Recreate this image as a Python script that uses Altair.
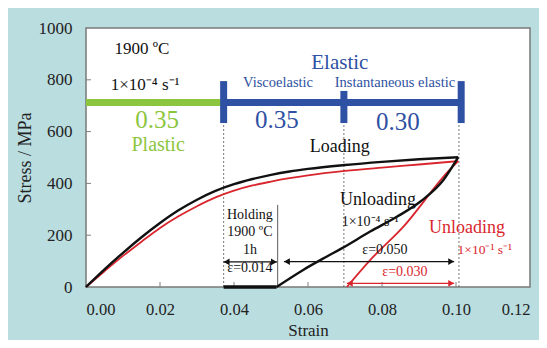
import altair as alt
import pandas as pd

FONT = "Liberation Serif"
BLACK = "#111111"
RED = "#d9262e"
BLUE = "#2e51a3"
GREEN = "#8cc63e"
BG = "#badde0"

# ---- curves (strain, stress MPa) ----
load_strain = [0, 0.005, 0.01, 0.015, 0.02, 0.025, 0.03, 0.035, 0.04, 0.045, 0.05, 0.055, 0.06, 0.07, 0.08, 0.09, 0.1006]
black_load_stress = [0, 68, 132, 192, 247, 296, 337, 371, 397, 417, 433, 446, 456, 471, 483, 493, 501]
red_load_stress = [0, 61, 120, 175, 228, 273, 312, 346, 372, 392, 407, 420, 431, 448, 461, 473, 486]

black_unload_strain = [0.0515, 0.0587, 0.065, 0.0691, 0.0768, 0.084, 0.0903, 0.0966, 0.1006]
black_unload_stress = [0, 66, 117, 149, 214, 271, 329, 413, 501]

red_unload_strain = [0.0705, 0.0768, 0.0858, 0.098, 0.1006]
red_unload_stress = [0, 104, 233, 448, 486]

hold_strain = [0.0372, 0.0515]
hold_stress = [0, 0]

rows = []
for s, v in zip(load_strain, black_load_stress):
    rows.append(("black_load", "k", s, v))
for s, v in zip(black_unload_strain, black_unload_stress):
    rows.append(("black_unload", "k", s, v))
curves_k = pd.DataFrame(rows, columns=["series", "col", "strain", "stress"])
rows = []
for s, v in zip(load_strain, red_load_stress):
    rows.append(("red_load", "r", s, v))
for s, v in zip(red_unload_strain, red_unload_stress):
    rows.append(("red_unload", "r", s, v))
curves_r = pd.DataFrame(rows, columns=["series", "col", "strain", "stress"])
hold = pd.DataFrame({"strain": hold_strain, "stress": hold_stress})

x_ticks = [0.0, 0.02, 0.04, 0.06, 0.08, 0.10, 0.12]
y_ticks = [0, 200, 400, 600, 800, 1000]

xs = alt.Scale(domain=[0, 0.12], nice=False, zero=False)
ys = alt.Scale(domain=[0, 1000], nice=False)

X = alt.X("strain:Q", scale=xs, title="Strain",
          axis=alt.Axis(values=x_ticks, format=".2f", grid=False, ticks=False, domain=False,
                        labelPadding=14, titlePadding=5, labelFontSize=16.5, titleFontSize=17))
Y = alt.Y("stress:Q", scale=ys, title="Stress / MPa",
          axis=alt.Axis(values=y_ticks, format="d", grid=False, ticks=False, domain=False,
                        labelPadding=14, titlePadding=4))

lines_r = alt.Chart(curves_r).mark_line(strokeWidth=1.8, interpolate="monotone", color=RED).encode(
    x=X, y=Y, detail="series:N")
lines_k = alt.Chart(curves_k).mark_line(strokeWidth=2.4, interpolate="monotone", color=BLACK).encode(
    x=alt.X("strain:Q", scale=xs), y=alt.Y("stress:Q", scale=ys), detail="series:N")
hold_line = alt.Chart(hold).mark_line(strokeWidth=3.5, color=BLACK).encode(
    x=alt.X("strain:Q", scale=xs), y=alt.Y("stress:Q", scale=ys))

# ---- inward ticks ----
ytk = alt.Chart(pd.DataFrame({"v": y_ticks[1:-1]})).mark_rule(color="#808080", strokeWidth=1).encode(
    y=alt.Y("v:Q", scale=ys), x=alt.value(0), x2=alt.value(5))
xtk = alt.Chart(pd.DataFrame({"v": x_ticks[1:-1]})).mark_rule(color="#808080", strokeWidth=1).encode(
    x=alt.X("v:Q", scale=xs), y=alt.value(259), y2=alt.value(254))

# ---- phase bars ----
bar_y = 712
bars = pd.DataFrame({"x0": [0.0, 0.0372], "x1": [0.0372, 0.1014], "y": [bar_y, bar_y], "c": [GREEN, BLUE]})
bar_layer = alt.Chart(bars).mark_rule(strokeWidth=7, strokeCap="butt").encode(
    x=alt.X("x0:Q", scale=xs), x2="x1:Q", y=alt.Y("y:Q", scale=ys),
    color=alt.Color("c:N", scale=None))
bar_ticks_x = [0.0372, 0.0697, 0.1014]
bar_ticks_top = [795, 757, 795]
btk = alt.Chart(pd.DataFrame({"x": bar_ticks_x, "y0": [633] * 3, "y1": bar_ticks_top})).mark_rule(
    strokeWidth=7, color=BLUE, strokeCap="butt").encode(
    x=alt.X("x:Q", scale=xs), y=alt.Y("y0:Q", scale=ys), y2="y1:Q")

# dashed guides
guide_x = [0.0372, 0.0697, 0.1008]
guides = alt.Chart(pd.DataFrame({"x": guide_x, "y0": [0] * 3, "y1": [633] * 3})).mark_rule(
    strokeWidth=0.8, color="#555555", strokeDash=[2, 2]).encode(
    x=alt.X("x:Q", scale=xs), y=alt.Y("y0:Q", scale=ys), y2="y1:Q")
hold_guide = alt.Chart(pd.DataFrame({"x": [0.0518], "y0": [0], "y1": [317]})).mark_rule(
    strokeWidth=0.8, color="#333333").encode(
    x=alt.X("x:Q", scale=xs), y=alt.Y("y0:Q", scale=ys), y2="y1:Q")

# ---- arrows ----
arrows = pd.DataFrame({
    "x0": [0.0372, 0.0535, 0.0705],
    "x1": [0.0516, 0.0995, 0.0995],
    "y": [97, 98, 14],
    "c": [BLACK, BLACK, RED],
})
arrow_lines = alt.Chart(arrows).mark_rule(strokeWidth=1.2).encode(
    x=alt.X("x0:Q", scale=xs), x2="x1:Q", y=alt.Y("y:Q", scale=ys), color=alt.Color("c:N", scale=None))
head_l = alt.Chart(arrows).mark_point(shape="triangle-left", filled=True, size=45, opacity=1, xOffset=3).encode(
    x=alt.X("x0:Q", scale=xs), y=alt.Y("y:Q", scale=ys), color=alt.Color("c:N", scale=None))
head_r = alt.Chart(arrows).mark_point(shape="triangle-right", filled=True, size=45, opacity=1, xOffset=-3).encode(
    x=alt.X("x1:Q", scale=xs), y=alt.Y("y:Q", scale=ys), color=alt.Color("c:N", scale=None))

# ---- annotations ----
ann_text = ["1900 ºC", "1×10⁻⁴ s⁻¹", "0.35", "Plastic", "0.35", "Viscoelastic", "Elastic",
            "Instantaneous elastic", "0.30", "Loading", "Holding", "1900 ºC", "1h", "ε=0.014",
            "Unloading", "1×10⁻⁴ s⁻¹", "ε=0.050", "ε=0.030", "Unloading", "1×10⁻¹ s⁻¹"]
ann_x = [0.0151, 0.0160, 0.0192, 0.0195, 0.0516, 0.0519, 0.0686,
         0.0835, 0.0843, 0.0686, 0.0443, 0.0443, 0.0443, 0.0443,
         0.0789, 0.0768, 0.0808, 0.0862, 0.1030, 0.1078]
ann_y = [919, 780, 645, 548, 645, 788, 865,
         788, 637, 541, 278, 212, 143, 73,
         336, 251, 143, 58, 228, 143]
ann_size = [17, 17, 25, 20, 25, 14.5, 21,
            14.5, 25, 18, 14, 14, 14, 14,
            18, 14, 14, 14, 18, 13.5]
ann_col = [BLACK, BLACK, GREEN, GREEN, BLUE, BLUE, BLUE,
           BLUE, BLUE, BLACK, BLACK, BLACK, BLACK, BLACK,
           BLACK, BLACK, BLACK, RED, RED, RED]
ann = pd.DataFrame({"t": ann_text, "x": ann_x, "y": ann_y, "s": ann_size, "c": ann_col})
texts = alt.Chart(ann).mark_text(font=FONT, baseline="middle", align="center").encode(
    x=alt.X("x:Q", scale=xs), y=alt.Y("y:Q", scale=ys), text="t:N",
    size=alt.Size("s:Q", scale=None), color=alt.Color("c:N", scale=None))

chart = alt.layer(
    guides, hold_guide, ytk, xtk, lines_r, lines_k, hold_line, arrow_lines, head_l, head_r,
    bar_layer, btk, texts
).properties(
    width=444, height=259,
    background=BG,
    autosize=alt.AutoSizeParams(type="none"),
    padding={"left": 78, "top": 20, "right": 9, "bottom": 53},
).configure_view(
    stroke="#7a7a7a", strokeWidth=1.5, fill="white"
).configure_axis(
    labelFont=FONT, titleFont=FONT, labelFontSize=17, titleFontSize=18,
    labelColor="#222222", titleColor="#222222", titleFontWeight="normal"
)

chart.save("out.html", embed_options={"renderer": "svg", "actions": False})
